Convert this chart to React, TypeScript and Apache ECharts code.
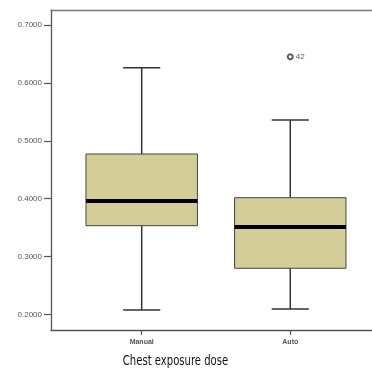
import { useEffect, useRef } from 'react';
import * as echarts from 'echarts';

const categories = ['Manual', 'Auto'];
const catPositions = [1, 2];
const minValues = [0.2078, 0.2095];
const q1Values = [0.3534, 0.2798];
const medianValues = [0.396, 0.3511];
const q3Values = [0.4772, 0.4017];
const maxValues = [0.6263, 0.536];
const outlierPositions = [2];
const outlierValues = [0.6452];
const outlierLabels = ['42'];
const yTicks = [0.2, 0.3, 0.4, 0.5, 0.6, 0.7];
const xTitle = 'Chest exposure dose';

export default function App() {
  const ref = useRef<HTMLDivElement>(null);
  useEffect(() => {
    if (!ref.current) return;
    const chart = echarts.init(ref.current, null, { renderer: 'svg' });
    const boxData = catPositions.map((p, i) => [p, minValues[i], q1Values[i], medianValues[i], q3Values[i], maxValues[i]]);
    const outData = outlierPositions.map((p, i) => ({ value: [p, outlierValues[i]], name: outlierLabels[i] }));
    const xMin = 0.3896;
    const xMax = 2.55;
    chart.setOption({
      animation: false,
      grid: { left: 51, top: 10, right: 0, bottom: 41 },
      xAxis: [
        {
          type: 'value',
          min: xMin,
          max: xMax,
          splitLine: { show: false },
          axisLine: { show: true, lineStyle: { color: '#555', width: 1.3 } },
          axisTick: { show: true, customValues: catPositions, length: 5, lineStyle: { color: '#555', width: 1.2 } },
          axisLabel: {
            customValues: catPositions,
            formatter: (v: number) => categories[catPositions.indexOf(v)] ?? '',
            fontSize: 7,
            color: '#555',
            fontWeight: 'bold',
            fontFamily: 'Liberation Sans',
            margin: 8,
          },
        },
        {
          type: 'value',
          position: 'top',
          min: xMin,
          max: xMax,
          splitLine: { show: false },
          axisLine: { show: true, onZero: false, lineStyle: { color: '#777', width: 1.3 } },
          axisTick: { show: false },
          axisLabel: { show: false },
        },
      ],
      yAxis: {
        type: 'value',
        min: 0.1732,
        max: 0.7259,
        splitLine: { show: false },
        axisLine: { show: true, lineStyle: { color: '#555', width: 1.3 } },
        axisTick: { show: true, customValues: yTicks, length: 7, lineStyle: { color: '#555', width: 1.2 } },
        axisLabel: {
          customValues: yTicks,
          formatter: (v: number) => v.toFixed(4),
          fontSize: 8,
          color: '#555',
          fontFamily: 'Liberation Sans',
          margin: 9,
        },
      },
      graphic: [
        {
          type: 'text',
          x: 175.5,
          y: 360,
          scaleX: 0.8,
          style: {
            text: xTitle,
            fontSize: 14,
            fontFamily: '"Liberation Sans Narrow", "DejaVu Sans Condensed", "Liberation Sans"',
            fill: '#111',
            textAlign: 'center',
            textVerticalAlign: 'middle',
          },
        },
      ],
      series: [
        {
          type: 'custom',
          data: boxData,
          encode: { x: 0, y: [1, 2, 3, 4, 5] },
          renderItem: (params: any, api: any) => {
            const x = api.value(0);
            const lo = api.coord([x, api.value(1)]);
            const q1 = api.coord([x, api.value(2)]);
            const med = api.coord([x, api.value(3)]);
            const q3 = api.coord([x, api.value(4)]);
            const hi = api.coord([x, api.value(5)]);
            const unit = api.size([1, 0])[0];
            const bw = unit * 0.75;
            const cw = unit * 0.25;
            const cx = lo[0];
            const ws = { stroke: '#333', lineWidth: 1.5 };
            return {
              type: 'group',
              children: [
                { type: 'line', shape: { x1: cx, y1: hi[1], x2: cx, y2: q3[1] }, style: ws },
                { type: 'line', shape: { x1: cx, y1: q1[1], x2: cx, y2: lo[1] }, style: ws },
                { type: 'line', shape: { x1: cx - cw / 2, y1: hi[1], x2: cx + cw / 2, y2: hi[1] }, style: ws },
                { type: 'line', shape: { x1: cx - cw / 2, y1: lo[1], x2: cx + cw / 2, y2: lo[1] }, style: ws },
                {
                  type: 'rect',
                  shape: { x: cx - bw / 2, y: q3[1], width: bw, height: q1[1] - q3[1] },
                  style: { fill: '#d3ce97', stroke: '#444', lineWidth: 1 },
                },
                {
                  type: 'line',
                  shape: { x1: cx - bw / 2, y1: med[1], x2: cx + bw / 2, y2: med[1] },
                  style: { stroke: '#000', lineWidth: 4 },
                },
              ],
            };
          },
        },
        {
          type: 'scatter',
          data: outData,
          symbol: 'emptyCircle',
          symbolSize: 5,
          itemStyle: { color: '#333', borderColor: '#333', borderWidth: 1.2 },
          label: {
            show: true,
            position: 'right',
            distance: 2,
            formatter: (p: any) => p.name,
            fontSize: 8,
            color: '#333',
            fontFamily: 'Liberation Sans',
          },
        },
      ],
    });
    return () => chart.dispose();
  }, []);
  return <div ref={ref} style={{ position: 'fixed', left: 0, top: 0, width: 372, height: 371 }} />;
}
